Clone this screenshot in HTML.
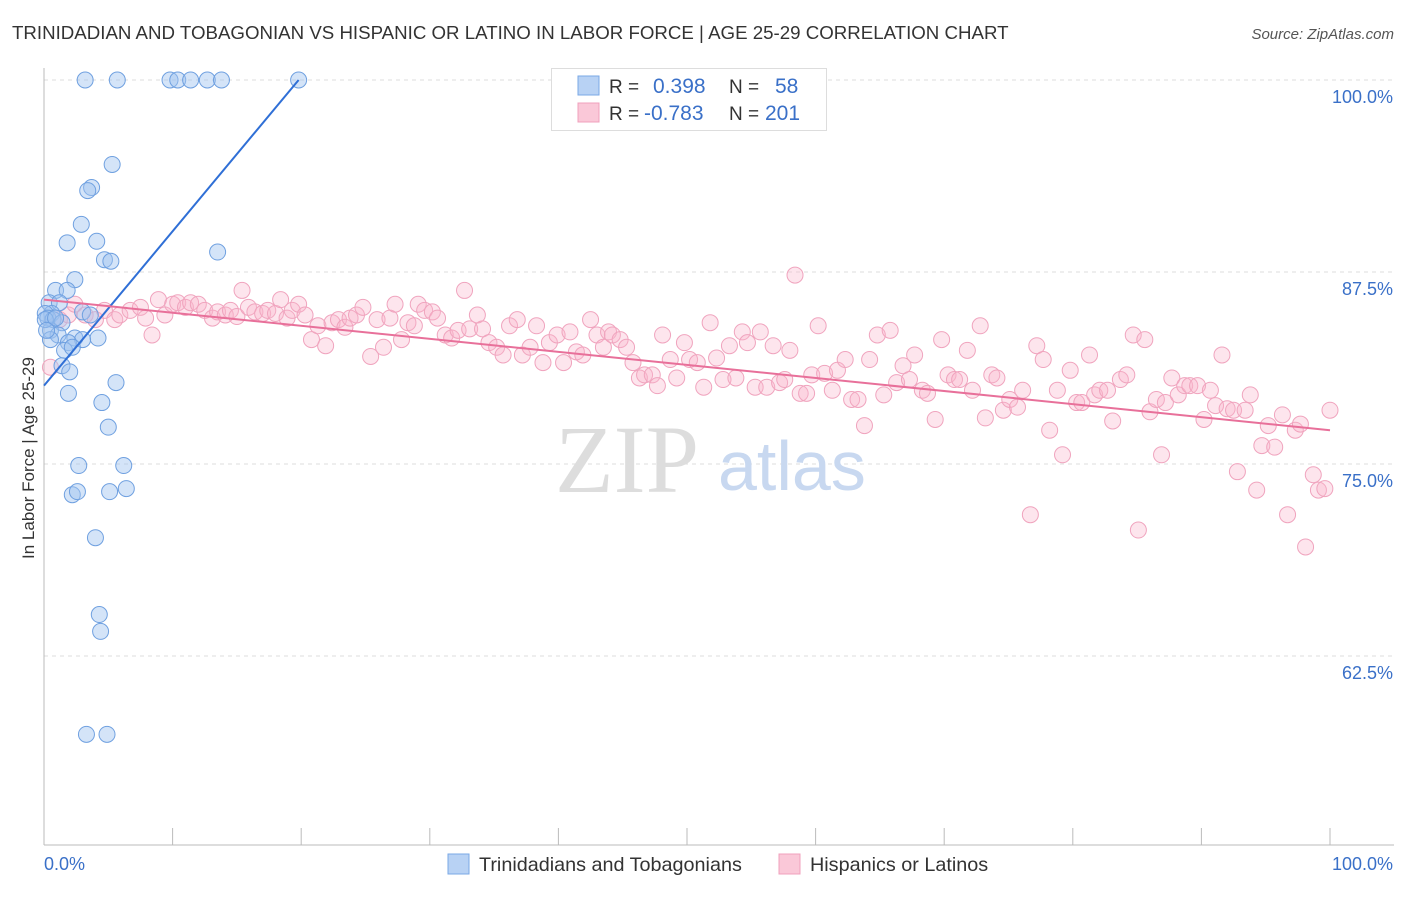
<!DOCTYPE html>
<html><head><meta charset="utf-8"><style>
body{margin:0;background:#fff;font-family:"Liberation Sans",sans-serif;}
svg text{font-family:"Liberation Sans",sans-serif;}
</style></head><body>
<svg id="chart" width="1406" height="892">
<text x="12" y="39" font-size="18.7" fill="#333">TRINIDADIAN AND TOBAGONIAN VS HISPANIC OR LATINO IN LABOR FORCE | AGE 25-29 CORRELATION CHART</text>
<text x="1394" y="39" font-size="15" fill="#555" font-style="italic" text-anchor="end">Source: ZipAtlas.com</text>
<text x="34" y="458" font-size="17" fill="#333" text-anchor="middle" transform="rotate(-90 34 458)">In Labor Force | Age 25-29</text>
<g id="grid"></g>
<text x="555" y="492" font-size="96" fill="#ddd" style="font-family:'Liberation Serif',serif">ZIP</text>
<text x="718" y="490" font-size="70" fill="#c8d8f0">atlas</text>
<g id="pts"></g>
<g id="lines"></g>
<g>
<rect x="551.5" y="68.5" width="275" height="62" fill="#fff" stroke="#ddd"/>
<rect x="578" y="76" width="21" height="19" fill="#b8d2f4" stroke="#7aa8e6"/>
<rect x="578" y="103" width="21" height="19" fill="#fac8d8" stroke="#f0a0bc"/>
<text x="609" y="93" font-size="19" fill="#333">R =</text>
<text x="653" y="93" font-size="21" fill="#3a70c8">0.398</text>
<text x="729" y="93" font-size="19" fill="#333">N =</text>
<text x="775" y="93" font-size="21" fill="#3a70c8">58</text>
<text x="609" y="120" font-size="19" fill="#333">R =</text>
<text x="644" y="120" font-size="21" fill="#3a70c8">-0.783</text>
<text x="729" y="120" font-size="19" fill="#333">N =</text>
<text x="765" y="120" font-size="21" fill="#3a70c8">201</text>
</g>
<g>
<rect x="448" y="854" width="21" height="20" fill="#b8d2f4" stroke="#7aa8e6"/>
<text x="479" y="871" font-size="19.8" fill="#333">Trinidadians and Tobagonians</text>
<rect x="779" y="854" width="21" height="20" fill="#fac8d8" stroke="#f0a0bc"/>
<text x="810" y="871" font-size="19.8" fill="#333">Hispanics or Latinos</text>
</g>
</svg>
<script>
const yTicks=[100,87.5,75,62.5];
const yTickLabels=["100.0%","87.5%","75.0%","62.5%"];
const xTicks=[0,10,20,30,40,50,60,70,80,90,100];
const blueX=[3.2,5.7,9.8,10.4,11.4,12.7,13.8,19.8,5.3,3.7,3.4,2.9,1.8,4.1,4.7,5.2,13.5,2.4,0.9,1.8,0.4,1.2,0.6,0.1,0.3,0.7,1.4,0.5,1.1,3.0,3.6,2.4,4.2,3.0,1.9,1.6,2.2,1.4,2.0,5.6,1.9,4.5,5.0,2.7,6.2,2.2,2.6,5.1,6.4,4.0,4.3,4.4,3.3,4.9,0.5,0.1,0.9,0.2];
const blueY=[100,100,100,100,100,100,100,100,94.5,93.0,92.8,90.6,89.4,89.5,88.3,88.2,88.8,87.0,86.3,86.3,85.5,85.5,84.8,84.8,84.5,84.4,84.2,83.7,83.4,84.9,84.7,83.2,83.2,83.1,82.9,82.4,82.6,81.4,81.0,80.3,79.6,79.0,77.4,74.9,74.9,73.0,73.2,73.2,73.4,70.2,65.2,64.1,57.4,57.4,83.1,84.4,84.5,83.7];
const pinkX=[0.5,1.2,1.9,2.4,3.2,4.0,4.7,5.5,5.9,6.7,7.5,7.9,8.4,8.9,9.4,10.0,10.4,11.0,11.4,12.0,12.5,13.1,13.5,14.1,14.5,15.0,15.4,15.9,16.4,17.0,17.4,18.0,18.4,18.9,19.3,19.8,20.3,20.8,21.3,21.9,22.4,22.9,23.4,23.8,24.3,24.8,25.4,25.9,26.4,26.9,27.3,27.8,28.3,28.8,29.1,29.6,30.2,30.6,31.2,31.7,32.2,32.7,33.1,33.7,34.1,34.6,35.2,35.7,36.2,36.8,37.2,37.8,38.3,38.8,39.3,39.9,40.4,40.9,41.4,41.9,42.5,43.0,43.5,43.9,44.2,44.8,45.3,45.8,46.3,46.7,47.3,47.7,48.1,48.7,49.2,49.8,50.2,50.8,51.3,51.8,52.3,52.8,53.3,53.8,54.3,54.7,55.3,55.7,56.2,56.7,57.2,57.6,58.0,58.4,58.8,59.3,59.7,60.2,60.7,61.3,61.7,62.3,62.8,63.3,63.8,64.2,64.8,65.3,65.8,66.3,66.8,67.3,67.7,68.3,68.7,69.3,69.8,70.3,70.8,71.2,71.8,72.2,72.8,73.2,73.7,74.1,74.6,75.1,75.7,76.1,76.7,77.2,77.7,78.2,78.8,79.2,79.8,80.3,80.7,81.3,81.7,82.1,82.7,83.1,83.7,84.2,84.7,85.1,85.6,86.0,86.5,86.9,87.2,87.7,88.2,88.7,89.1,89.7,90.2,90.7,91.1,91.6,92.0,92.5,92.8,93.4,93.8,94.3,94.7,95.2,95.7,96.3,96.7,97.3,97.7,98.1,98.7,99.1,99.6,100];
const pinkY=[81.3,84.4,84.7,85.4,84.7,84.4,85.0,84.4,84.7,85.0,85.2,84.5,83.4,85.7,84.7,85.4,85.5,85.2,85.5,85.4,85.0,84.5,84.9,84.7,85.0,84.6,86.3,85.2,84.9,84.8,85.0,84.8,85.7,84.5,85.0,85.4,84.7,83.1,84.0,82.7,84.2,84.4,83.9,84.5,84.7,85.2,82.0,84.4,82.6,84.5,85.4,83.1,84.2,84.0,85.4,85.0,84.9,84.5,83.4,83.2,83.7,86.3,83.8,84.7,83.8,82.9,82.6,82.1,84.0,84.4,82.1,82.6,84.0,81.6,82.9,83.4,81.6,83.6,82.3,82.1,84.4,83.4,82.6,83.6,83.4,83.1,82.6,81.6,80.6,80.8,80.8,80.1,83.4,81.8,80.6,82.9,81.8,81.6,80.0,84.2,81.9,80.5,82.7,80.6,83.6,82.9,80.0,83.6,80.0,82.7,80.3,80.5,82.4,87.3,79.6,79.6,80.8,84.0,80.9,79.8,81.1,81.8,79.2,79.2,77.5,81.8,83.4,79.5,83.7,80.3,81.4,80.5,82.1,79.8,79.6,77.9,83.1,80.8,80.5,80.5,82.4,79.8,84.0,78.0,80.8,80.6,78.5,79.2,78.7,79.8,71.7,82.7,81.8,77.2,79.8,75.6,81.1,79.0,79.0,82.1,79.5,79.8,79.8,77.8,80.5,80.8,83.4,70.7,83.1,78.4,79.2,75.6,79.0,80.6,79.5,80.1,80.1,80.1,77.9,79.8,78.8,82.1,78.6,78.5,74.5,78.5,79.5,73.3,76.2,77.5,76.1,78.2,71.7,77.2,77.6,69.6,74.3,73.3,73.4,78.5];
const blueTrend=[[0,80.1],[19.8,100]];
const pinkTrend=[[0,85.7],[100,77.2]];
const NS='http://www.w3.org/2000/svg';
const X=v=>44+v*12.86, Y=v=>80+(100-v)*15.36;
function mk(t,a,p){const e=document.createElementNS(NS,t);for(const k in a)e.setAttribute(k,a[k]);p.appendChild(e);return e;}
const grid=document.getElementById('grid');
yTicks.forEach((t,i)=>{
 const l=mk('line',{x1:44,x2:1394,y1:Y(t),y2:Y(t),stroke:'#ddd','stroke-dasharray':'4,4'},grid);
 
 
 const tx=mk('text',{x:1393,y:Y(t)+23,'font-size':18,fill:'#3a70c8','text-anchor':'end'},grid);
 tx.textContent=yTickLabels[i];
 
 
});
const ax=mk('line',{x1:44,x2:1394,y1:845,y2:845,stroke:'#bbb'},grid);


const ay=mk('line',{x1:44,x2:44,y1:68,y2:845,stroke:'#bbb'},grid);


xTicks.forEach(t=>{const l=mk('line',{x1:X(t),x2:X(t),y1:828,y2:845,stroke:'#bbb'},grid);
 
 });
[['0.0%',44,'start'],['100.0%',1393,'end']].forEach(a=>{const t=mk('text',{x:a[1],y:870,'font-size':18,fill:'#3a70c8','text-anchor':a[2]},grid);t.textContent=a[0];
 
 });
const pts=document.getElementById('pts');
pinkX.forEach((x,i)=>{const c=mk('circle',{cx:X(x),cy:Y(pinkY[i]),r:8,fill:'rgba(248,180,202,0.35)',stroke:'#f0a4be','stroke-width':1},pts);
 
 });
blueX.forEach((x,i)=>{const c=mk('circle',{cx:X(x),cy:Y(blueY[i]),r:8,fill:'rgba(160,196,240,0.45)',stroke:'#6fa0e0','stroke-width':1},pts);
 
 });
const lines=document.getElementById('lines');
const bl=mk('line',{x1:X(blueTrend[0][0]),y1:Y(blueTrend[0][1]),x2:X(blueTrend[1][0]),y2:Y(blueTrend[1][1]),stroke:'#2f6fd6','stroke-width':2},lines);


const pl=mk('line',{x1:X(pinkTrend[0][0]),y1:Y(pinkTrend[0][1]),x2:X(pinkTrend[1][0]),y2:Y(pinkTrend[1][1]),stroke:'#e8709a','stroke-width':2},lines);


</script>
</body></html>
